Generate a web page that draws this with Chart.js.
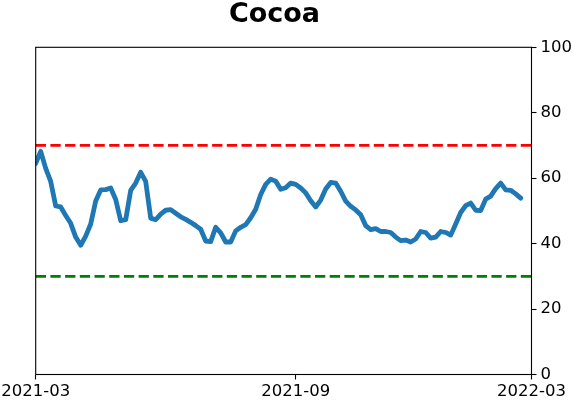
<!DOCTYPE html>
<html>
<head>
<meta charset="utf-8">
<script src="https://cdn.jsdelivr.net/npm/chart.js@4/dist/chart.umd.min.js"></script>
<style>
html,body{margin:0;padding:0;background:#fff;}
#wrap{width:572px;height:402px;position:relative;}
</style>
</head>
<body>
<div id="wrap"><canvas id="c" width="572" height="402"></canvas></div>
<script>
const titleText = "Cocoa";
const values = [
  64.5, 68.2, 63.0, 59.0, 51.5, 51.2, 48.6, 46.2, 42.0, 39.5,
  42.3, 46.0, 53.0, 56.4, 56.5, 57.0, 53.5, 47.0, 47.3, 56.3,
  58.5, 61.8, 59.0, 47.8, 47.3, 49.0, 50.2, 50.4, 49.3, 48.2,
  47.4, 46.5, 45.5, 44.4, 40.8, 40.6, 45.0, 43.3, 40.5, 40.5,
  43.9, 45.0, 45.8, 47.9, 50.5, 55.0, 58.1, 59.7, 59.1, 56.6,
  57.1, 58.5, 58.1, 57.0, 55.5, 53.1, 51.2, 53.3, 56.7, 58.7,
  58.5, 56.0, 53.0, 51.4, 50.3, 48.8, 45.5, 44.3, 44.6, 43.7,
  43.7, 43.4, 42.0, 40.9, 41.1, 40.5, 41.4, 43.7, 43.4, 41.7,
  42.0, 43.7, 43.4, 42.6, 46.0, 49.5, 51.6, 52.4, 50.2, 50.1,
  53.6, 54.5, 56.8, 58.5, 56.4, 56.3, 55.2, 53.9
];
const tickLabels = ["2021-03", "2021-09", "2022-03"];
const tickPositions = [0, 52, 99.16];
const upperLevel = [70, 70];
const lowerLevel = [30, 30];
const yTicks = [0, 20, 40, 60, 80, 100];

const xMin = tickPositions[0];
const xMax = tickPositions[tickPositions.length - 1];
const seriesPoints = values.map((v, i) => ({x: i, y: v}));
const upperPoints = upperLevel.map((v, i) => ({x: i === 0 ? xMin : xMax, y: v}));
const lowerPoints = lowerLevel.map((v, i) => ({x: i === 0 ? xMin : xMax, y: v}));

const FONT = "'DejaVu Sans', sans-serif";

const framePlugin = {
  id: 'frame',
  afterDatasetsDraw(chart) {
    const {ctx, chartArea: a} = chart;
    ctx.save();
    ctx.strokeStyle = '#000';
    ctx.lineWidth = 1.1;
    ctx.strokeRect(a.left, a.top, a.right - a.left, a.bottom - a.top);
    ctx.restore();
  },
  afterDraw(chart) {
    const {ctx} = chart;
    ctx.save();
    ctx.fillStyle = '#000';
    ctx.font = "bold 27px " + FONT;
    ctx.textAlign = 'center';
    ctx.textBaseline = 'alphabetic';
    ctx.fillText(titleText, 274.5, 21.5);
    ctx.restore();
  }
};

new Chart(document.getElementById('c'), {
  type: 'line',
  data: {
    datasets: [
      {data: upperPoints, borderColor: '#ff0000', borderWidth: 2.8, borderDash: [10.3, 4.4], pointRadius: 0, fill: false, order: 2},
      {data: lowerPoints, borderColor: '#008000', borderWidth: 2.8, borderDash: [10.3, 4.4], pointRadius: 0, fill: false, order: 2},
      {data: seriesPoints, borderColor: '#1f77b4', borderWidth: 4.8, pointRadius: 0, tension: 0, fill: false, borderJoinStyle: 'round', borderCapStyle: 'round', order: 1}
    ]
  },
  options: {
    responsive: false,
    animation: false,
    devicePixelRatio: 1,
    layout: {padding: {left: 35.7, top: 47.3, right: 0, bottom: 0}},
    plugins: {legend: {display: false}, title: {display: false}, tooltip: {enabled: false}},
    scales: {
      x: {
        type: 'linear',
        min: xMin,
        max: xMax,
        position: 'bottom',
        afterBuildTicks(scale) { scale.ticks = tickPositions.map(v => ({value: v})); },
        afterFit(scale) { scale.height = 27.5; scale.paddingLeft = 0; scale.paddingRight = 0; },
        grid: {drawOnChartArea: false, drawTicks: true, tickLength: 5, tickColor: '#000', tickWidth: 1.1},
        border: {display: false},
        ticks: {
          autoSkip: false,
          maxRotation: 0,
          padding: 2,
          color: '#000',
          font: {family: FONT, size: 16.5},
          callback(v) { const k = tickPositions.indexOf(v); return k >= 0 ? tickLabels[k] : ''; }
        }
      },
      y: {
        type: 'linear',
        position: 'right',
        min: 0,
        max: 100,
        afterBuildTicks(scale) { scale.ticks = yTicks.map(v => ({value: v})); },
        afterFit(scale) { scale.width = 40.5; scale.paddingTop = 0; scale.paddingBottom = 0; },
        grid: {drawOnChartArea: false, drawTicks: true, tickLength: 5, tickColor: '#000', tickWidth: 1.1},
        border: {display: false},
        ticks: {
          padding: 4,
          color: '#000',
          font: {family: FONT, size: 16.5}
        }
      }
    }
  },
  plugins: [framePlugin]
});
</script>
</body>
</html>
